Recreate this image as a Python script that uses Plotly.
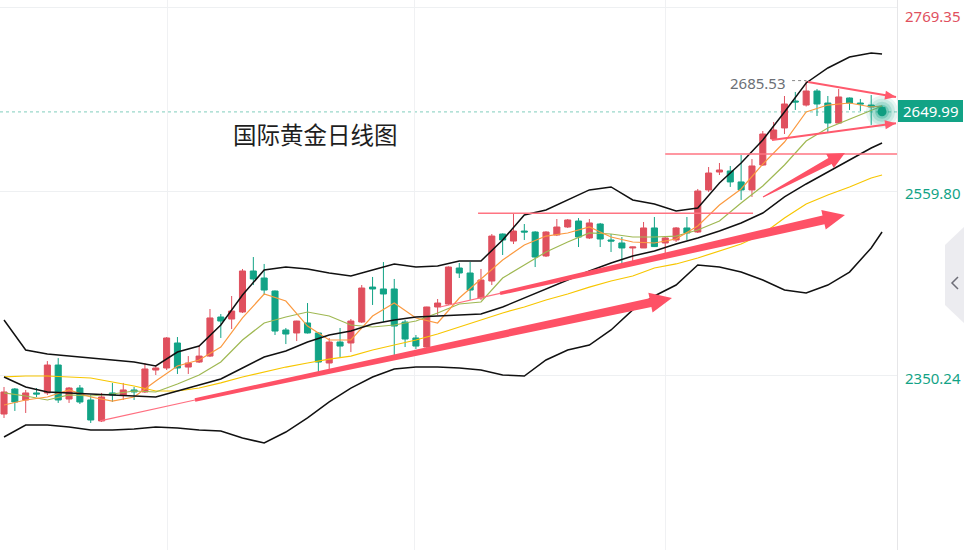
import math
import plotly.graph_objects as go

# ---------------- data ----------------
candle_open = [2305.8, 2334.3, 2321.8, 2329.8, 2329.8, 2361.6, 2322.9, 2335.4, 2321.8, 2297.9,
               2329.8, 2327.5, 2333.2, 2330.9, 2355.9, 2358.2, 2386.7, 2359.3, 2365.0, 2371.8,
               2416.3, 2414.0, 2422.0, 2468.7, 2460.7, 2445.9, 2401.5, 2398.1, 2409.5, 2398.1,
               2363.9, 2387.8, 2386.7, 2410.6, 2450.4, 2448.2, 2448.2, 2410.6, 2392.4, 2382.1,
               2427.7, 2431.1, 2472.1, 2466.4, 2437.9, 2457.3, 2510.8, 2502.8, 2514.2, 2513.1,
               2485.8, 2509.7, 2518.8, 2525.6, 2506.3, 2522.2, 2504.0, 2500.6, 2494.9, 2494.9,
               2517.7, 2500.6, 2504.0, 2517.7, 2513.1, 2561.0, 2581.4, 2582.6, 2570.1, 2561.0,
               2589.4, 2619.0, 2631.6, 2662.3, 2657.7, 2673.7, 2660.0, 2637.2, 2665.7, 2660.0,
               2657.7, 2655.0]
candle_high = [2336.6, 2335.4, 2333.2, 2335.4, 2366.1, 2369.5, 2336.6, 2338.8, 2327.5, 2329.8,
               2341.2, 2341.2, 2336.6, 2363.9, 2361.6, 2393.5, 2393.5, 2371.8, 2384.4, 2425.4,
               2419.7, 2440.2, 2471.0, 2484.6, 2476.7, 2446.5, 2403.8, 2412.0, 2432.2, 2399.0,
               2392.4, 2403.8, 2414.0, 2452.7, 2461.9, 2478.9, 2459.6, 2412.9, 2395.8, 2428.0,
               2436.8, 2474.0, 2477.8, 2478.9, 2471.0, 2510.8, 2511.5, 2533.6, 2522.2, 2514.0,
               2514.0, 2527.9, 2527.9, 2529.0, 2527.9, 2523.4, 2510.8, 2507.4, 2496.5, 2524.5,
               2530.2, 2507.4, 2518.8, 2530.2, 2562.1, 2587.1, 2591.7, 2588.3, 2600.8, 2596.2,
               2628.1, 2638.4, 2668.0, 2672.6, 2685.53, 2676.0, 2668.0, 2676.0, 2666.3, 2664.6,
               2669.1, 2657.0]
candle_low = [2301.3, 2309.3, 2307.0, 2325.2, 2327.5, 2318.4, 2318.4, 2317.2, 2295.6, 2296.7,
              2319.5, 2321.8, 2321.8, 2329.8, 2350.2, 2355.9, 2351.4, 2351.4, 2363.9, 2370.7,
              2392.4, 2402.6, 2420.9, 2452.7, 2441.3, 2395.8, 2385.5, 2388.9, 2397.5, 2353.6,
              2357.1, 2370.7, 2376.4, 2409.5, 2430.0, 2410.6, 2369.5, 2382.1, 2379.8, 2381.0,
              2418.6, 2430.0, 2460.7, 2435.7, 2435.7, 2452.7, 2486.9, 2499.4, 2504.0, 2473.2,
              2484.6, 2508.5, 2517.7, 2496.0, 2505.1, 2496.0, 2490.3, 2475.5, 2475.5, 2494.9,
              2496.0, 2486.9, 2501.7, 2504.0, 2512.0, 2558.7, 2578.0, 2564.4, 2549.6, 2553.0,
              2588.3, 2617.9, 2624.7, 2652.1, 2656.0, 2645.2, 2625.9, 2636.5, 2652.1, 2650.9,
              2635.0, 2647.0]
candle_close = [2330.9, 2319.5, 2329.8, 2328.6, 2361.6, 2321.8, 2335.4, 2319.5, 2299.0, 2325.2,
                2327.5, 2333.2, 2330.9, 2357.1, 2358.2, 2392.4, 2358.2, 2363.9, 2371.8, 2415.2,
                2411.7, 2423.1, 2468.7, 2459.6, 2447.0, 2400.3, 2396.9, 2411.7, 2398.1, 2365.0,
                2387.8, 2383.2, 2411.7, 2449.3, 2448.2, 2442.5, 2406.0, 2391.2, 2383.2, 2427.7,
                2432.2, 2473.2, 2466.4, 2447.0, 2458.4, 2508.5, 2504.0, 2514.2, 2513.1, 2484.6,
                2513.1, 2518.8, 2526.8, 2507.4, 2523.4, 2505.1, 2502.8, 2494.9, 2496.0, 2517.7,
                2496.5, 2506.3, 2517.7, 2512.0, 2559.8, 2580.3, 2583.7, 2570.1, 2561.0, 2588.3,
                2624.7, 2629.3, 2658.9, 2661.2, 2673.7, 2658.9, 2637.2, 2666.9, 2660.0, 2658.9,
                2655.5, 2649.99]

# indicator lines sampled at these bar positions
line_idx = list(range(0, 81, 2)) + [81]
boll_upper = [2412.9, 2378.7, 2374.2, 2371.8, 2369.5, 2367.3, 2365.0, 2360.5, 2376.4, 2383.2,
              2407.2, 2441.3, 2469.8, 2473.2, 2471.0, 2466.4, 2463.0, 2469.8, 2476.7, 2473.2,
              2474.4, 2480.1, 2480.1, 2504.0, 2532.5, 2538.2, 2549.6, 2561.0, 2564.4, 2549.6,
              2545.0, 2537.0, 2540.4, 2568.9, 2591.7, 2617.9, 2649.8, 2682.8, 2699.9, 2712.4,
              2717.0, 2715.8]
boll_mid = [2348.0, 2336.6, 2330.9, 2329.8, 2328.6, 2327.5, 2326.3, 2325.2, 2332.0, 2338.8,
            2345.7, 2358.2, 2370.7, 2377.6, 2387.8, 2395.8, 2400.3, 2408.3, 2412.9, 2416.3,
            2417.4, 2418.6, 2419.7, 2427.7, 2437.9, 2448.2, 2458.4, 2468.7, 2477.8, 2485.8,
            2491.5, 2499.4, 2506.3, 2514.2, 2523.4, 2534.7, 2553.0, 2567.8, 2581.4, 2595.1,
            2608.8, 2614.5]
boll_lower = [2279.6, 2293.3, 2293.3, 2291.0, 2287.6, 2287.6, 2288.7, 2291.0, 2289.9, 2287.6,
              2286.4, 2278.5, 2272.8, 2285.3, 2301.3, 2319.5, 2335.4, 2348.0, 2357.1, 2359.3,
              2359.3, 2358.2, 2355.9, 2350.2, 2349.1, 2367.3, 2378.7, 2384.4, 2401.5, 2424.3,
              2440.2, 2452.7, 2475.5, 2473.2, 2467.5, 2458.4, 2447.0, 2443.6, 2452.7, 2467.5,
              2494.9, 2513.1]
ma_orange = [2316.1, 2321.8, 2325.2, 2333.2, 2325.2, 2320.6, 2325.2, 2343.4, 2360.5, 2367.3,
             2382.1, 2415.2, 2442.5, 2434.5, 2406.0, 2390.1, 2390.1, 2417.4, 2432.2, 2415.2,
             2409.5, 2437.9, 2459.6, 2481.2, 2498.3, 2508.5, 2512.0, 2518.8, 2507.4, 2501.7,
             2500.6, 2505.1, 2519.9, 2543.9, 2562.1, 2590.5, 2615.6, 2649.8, 2657.7, 2660.0,
             2655.5, 2656.6]
ma_olive = [2329.8, 2326.3, 2321.8, 2327.5, 2326.3, 2328.6, 2332.0, 2330.9, 2340.0, 2350.2,
            2365.0, 2390.1, 2409.5, 2416.3, 2422.0, 2417.4, 2407.2, 2404.9, 2407.2, 2411.7,
            2420.9, 2431.1, 2433.4, 2460.7, 2475.5, 2490.3, 2501.7, 2512.0, 2510.8, 2507.4,
            2507.4, 2508.5, 2515.4, 2525.6, 2546.1, 2565.5, 2589.4, 2616.7, 2631.6, 2641.8,
            2652.1, 2656.6]
ma_yellow = [2348.0, 2349.1, 2349.1, 2348.0, 2346.8, 2342.3, 2337.7, 2332.0, 2332.0, 2335.4,
             2341.2, 2348.0, 2353.6, 2359.3, 2363.9, 2368.4, 2371.8, 2378.7, 2384.4, 2390.1,
             2396.9, 2404.9, 2412.9, 2420.9, 2427.7, 2435.7, 2442.5, 2450.4, 2457.3, 2463.0,
             2472.1, 2476.7, 2483.5, 2491.5, 2499.4, 2510.8, 2529.1, 2545.0, 2555.2, 2564.4,
             2574.6, 2578.0]

price_ticks = [2350.24, 2559.80, 2769.35]
price_tick_colors = ["#12a386", "#12a386", "#e0505e"]
last_price = 2649.99
high_mark = 2685.53
high_mark_idx = 74
title_text = "国际黄金日线图"

# hand-drawn annotations (bar index, price)
long_arrow_low = [(8.86, 2297.9), (17.62, 2321.8), (61.62, 2437.9)]   # thin start, thick start, head
long_arrow_up = [(40.22, 2427.7), (45.76, 2443.2), (77.58, 2532.5)]
short_arrow = [(70.02, 2553.0), (77.58, 2603.1)]
tri_upper = [(74.17, 2683.9), (82.29, 2666.9)]
tri_lower = [(70.85, 2617.9), (82.29, 2636.9)]
hline_a = (43.73, 69.1, 2534.4)
hline_b = (61.0, 83.0, 2601.9)
vgrid_idx = [15.04, 37.91, 60.98]

# ---------------- geometry ----------------
W, H = 964, 550
PLOT_W = 897
X0, X1 = -0.37, 82.38
Y0, Y1 = 2150.93, 2777.33
SX = PLOT_W / (X1 - X0)
SY = H / (Y1 - Y0)

RED = "#e0505e"
GREEN = "#12a386"
ARROW = "#fe5166"


def to_px(pt):
    return ((pt[0] - X0) * SX, (Y1 - pt[1]) * SY)


def to_data(px, py):
    return (X0 + px / SX, Y1 - py / SY)


def path_from_px(points):
    pts = [to_data(x, y) for x, y in points]
    return "M " + " L ".join(f"{a:.4f},{b:.3f}" for a, b in pts) + " Z"


def tapered_arrow(tail, head, w_tail, w_shaft, head_len, head_hw):
    tx, ty = to_px(tail)
    hx, hy = to_px(head)
    dx, dy = hx - tx, hy - ty
    L = math.hypot(dx, dy)
    ux, uy = dx / L, dy / L
    nx, ny = -uy, ux
    bx, by = hx - ux * head_len, hy - uy * head_len
    pts = [
        (tx + nx * w_tail / 2, ty + ny * w_tail / 2),
        (bx + nx * w_shaft / 2, by + ny * w_shaft / 2),
        (bx + nx * head_hw, by + ny * head_hw),
        (hx, hy),
        (bx - nx * head_hw, by - ny * head_hw),
        (bx - nx * w_shaft / 2, by - ny * w_shaft / 2),
        (tx - nx * w_tail / 2, ty - ny * w_tail / 2),
    ]
    return path_from_px(pts)


def head_only(tail, head, head_len, head_hw):
    tx, ty = to_px(tail)
    hx, hy = to_px(head)
    dx, dy = hx - tx, hy - ty
    L = math.hypot(dx, dy)
    ux, uy = dx / L, dy / L
    nx, ny = -uy, ux
    bx, by = hx - ux * head_len, hy - uy * head_len
    return path_from_px([(bx + nx * head_hw, by + ny * head_hw), (hx, hy),
                         (bx - nx * head_hw, by - ny * head_hw)])


fig = go.Figure()

fig.add_trace(go.Candlestick(
    x=list(range(len(candle_open))), open=candle_open, high=candle_high,
    low=candle_low, close=candle_close,
    increasing=dict(line=dict(color=RED, width=1), fillcolor=RED),
    decreasing=dict(line=dict(color=GREEN, width=1), fillcolor=GREEN),
    whiskerwidth=0, showlegend=False, hoverinfo="skip"))

for vals, col, wd in [(ma_yellow, "#f7c600", 1.2), (ma_olive, "#9fb852", 1.2),
                      (ma_orange, "#fb9a40", 1.2), (boll_mid, "#111111", 1.5),
                      (boll_upper, "#111111", 1.5), (boll_lower, "#111111", 1.5)]:
    fig.add_trace(go.Scatter(x=line_idx, y=vals, mode="lines",
                             line=dict(color=col, width=wd), showlegend=False,
                             hoverinfo="skip"))

# glowing last-price dot (concentric translucent discs)
for sz, op in [(32, 0.10), (26, 0.14), (20, 0.20), (14, 0.30)]:
    fig.add_trace(go.Scatter(x=[81], y=[last_price], mode="markers", showlegend=False,
                             marker=dict(size=sz, color=GREEN, opacity=op, line=dict(width=0)),
                             hoverinfo="skip"))
fig.add_trace(go.Scatter(x=[81], y=[last_price], mode="markers", showlegend=False,
                         marker=dict(size=9, color="#0f9d80", line=dict(width=0)),
                         hoverinfo="skip"))

shapes = []
# current-price dotted line
shapes.append(dict(type="line", xref="x", yref="y", x0=X0, x1=X1, y0=last_price, y1=last_price,
                   line=dict(color="#9ad8ca", width=1.2, dash="dot"), layer="below"))
# horizontal red lines
for a, b, p in [hline_a, hline_b]:
    shapes.append(dict(type="line", xref="x", yref="y", x0=a, x1=b, y0=p, y1=p,
                       line=dict(color="#ff7482", width=1.5)))
# long arrows: thin lead-in + tapered body
for (p0, p1, p2) in [long_arrow_low, long_arrow_up]:
    shapes.append(dict(type="line", xref="x", yref="y", x0=p0[0], y0=p0[1], x1=p1[0], y1=p1[1],
                       line=dict(color="#ff6f80", width=1.2)))
    shapes.append(dict(type="path", xref="x", yref="y",
                       path=tapered_arrow(p1, p2, 3.5, 9.0, 22, 10),
                       fillcolor=ARROW, line=dict(width=0)))
shapes.append(dict(type="path", xref="x", yref="y",
                   path=tapered_arrow(short_arrow[0], short_arrow[1], 1.0, 7.0, 17, 8),
                   fillcolor=ARROW, line=dict(width=0)))
# triangle (converging) lines
for a, b in [tri_upper, tri_lower]:
    shapes.append(dict(type="line", xref="x", yref="y", x0=a[0], y0=a[1], x1=b[0], y1=b[1],
                       line=dict(color="#ff5a6d", width=2)))
    shapes.append(dict(type="path", xref="x", yref="y", path=head_only(a, b, 11, 4.5),
                       fillcolor="#ff5a6d", line=dict(width=0)))
# high-marker dotted leader
shapes.append(dict(type="line", xref="x", yref="y", x0=72.7, x1=high_mark_idx, y0=high_mark,
                   y1=high_mark, line=dict(color="#888888", width=1, dash="dot")))
# last price label box
shapes.append(dict(type="rect", xref="paper", yref="paper", x0=898 / W, x1=963 / W,
                   y0=1 - 122 / H, y1=1 - 100 / H, fillcolor=GREEN, line=dict(width=0)))
# right-side collapse tab
tab = [(964, 227), (945, 245), (945, 305), (964, 323)]
shapes.append(dict(type="path", xref="paper", yref="paper",
                   path="M " + " L ".join(f"{x / W:.5f},{1 - y / H:.5f}" for x, y in tab) + " Z",
                   fillcolor="#ececf0", line=dict(width=0)))
chev = [(958, 277), (952, 283), (958, 289)]
shapes.append(dict(type="path", xref="paper", yref="paper",
                   path="M " + " L ".join(f"{x / W:.5f},{1 - y / H:.5f}" for x, y in chev),
                   line=dict(color="#6e6e78", width=1.5)))

annotations = []
for v, c, ys in zip(price_ticks, price_tick_colors, [-3, -2, -9]):
    annotations.append(dict(x=903 / W, xref="paper", xanchor="left", y=v, yref="y",
                            yanchor="middle", yshift=ys, text=f"{v:.2f}", showarrow=False,
                            font=dict(family="Noto Sans", size=15, color=c)))
annotations.append(dict(x=930.5 / W, xref="paper", xanchor="center", y=1 - 111 / H, yref="paper",
                        yanchor="middle", text=f"{last_price:.2f}", showarrow=False,
                        font=dict(family="Noto Sans", size=15, color="white")))
annotations.append(dict(x=72.3, xref="x", xanchor="right", y=high_mark, yref="y",
                        yanchor="middle", yshift=-2, text=f"{high_mark:.2f}", showarrow=False,
                        font=dict(family="Noto Sans", size=15, color="#6b6f75")))
annotations.append(dict(x=315 / W, xref="paper", xanchor="center", y=1 - 134 / H, yref="paper",
                        yanchor="middle", text=title_text, showarrow=False,
                        font=dict(family="Noto Sans CJK SC", size=23.5, color="#1e1e1e")))

fig.update_layout(
    width=W, height=H, margin=dict(l=0, r=0, t=0, b=0),
    paper_bgcolor="white", plot_bgcolor="white", showlegend=False,
    boxgap=0.2,
    shapes=shapes, annotations=annotations,
    xaxis=dict(domain=[0, PLOT_W / W], range=[X0, X1], rangeslider=dict(visible=False),
               showticklabels=False, tickvals=vgrid_idx, showgrid=True,
               gridcolor="#f0f1f3", gridwidth=1, zeroline=False, showline=False, ticks=""),
    yaxis=dict(range=[Y0, Y1], side="right", tickvals=price_ticks, showticklabels=False,
               showgrid=True, gridcolor="#eef0f2", gridwidth=1, zeroline=False,
               showline=True, linecolor="#e6e6e8", linewidth=1, ticks=""),
)

fig.write_html("out.html")
